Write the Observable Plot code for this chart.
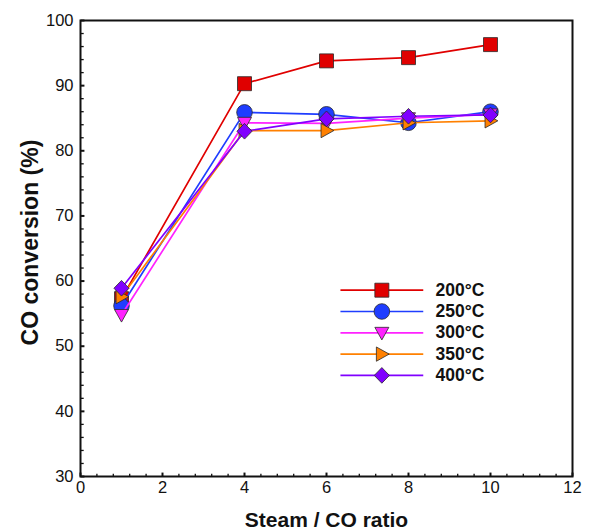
<!DOCTYPE html>
<html>
<head>
<meta charset="utf-8">
<script src="https://cdn.jsdelivr.net/npm/d3@7"></script>
<script src="https://cdn.jsdelivr.net/npm/@observablehq/plot@0.6"></script>
<style>
  body { margin: 0; background: #fff; }
  #chart svg { font-family: "Liberation Sans", Arial, Helvetica, sans-serif; }
</style>
</head>
<body>
<div id="chart"></div>
<script>
// Steam / CO ratio tested
const ratio = [1, 4, 6, 8, 10];

// Reaction temperatures (series)
const temps = ["200°C", "250°C", "300°C", "350°C", "400°C"];

// CO conversion (%) at each steam / CO ratio
const conv200 = [57.3, 90.3, 93.8, 94.3, 96.3];
const conv250 = [56.2, 85.9, 85.6, 84.3, 86.0];
const conv300 = [54.8, 84.3, 84.2, 85.0, 85.6];
const conv350 = [57.6, 83.1, 83.1, 84.3, 84.6];
const conv400 = [58.9, 83.0, 84.9, 85.3, 85.5];
const conversions = [conv200, conv250, conv300, conv350, conv400];

// Axis ticks
const xMajor = [0, 2, 4, 6, 8, 10, 12];
const yMajor = [30, 40, 50, 60, 70, 80, 90, 100];
const xMinor = [0.4, 0.8, 1.2, 1.6, 2.4, 2.8, 3.2, 3.6, 4.4, 4.8, 5.2, 5.6, 6.4, 6.8, 7.2, 7.6,
                8.4, 8.8, 9.2, 9.6, 10.4, 10.8, 11.2, 11.6];
const yMinor = [32, 34, 36, 38, 42, 44, 46, 48, 52, 54, 56, 58, 62, 64, 66, 68,
                72, 74, 76, 78, 82, 84, 86, 88, 92, 94, 96, 98];

const xDomain = [0, 12], yDomain = [30, 100];

// Series styling
const colors = ["#e00000", "#1f3dff", "#ff22ff", "#ff8000", "#8000ff"];

// Marker outlines, given in units of the dot radius
const shape = pts => ({
  draw(ctx, size) {
    const r = Math.sqrt(size / Math.PI);
    ctx.moveTo(pts[0][0] * r, pts[0][1] * r);
    for (const [px, py] of pts.slice(1)) ctx.lineTo(px * r, py * r);
    ctx.closePath();
  }
});
const symSquare = shape([[-1, -1], [1, -1], [1, 1], [-1, 1]]);
const symDiamond = shape([[0, -1.12], [1.08, 0], [0, 1.12], [-1.08, 0]]);
const symTriDown = shape([[-1, -0.78], [1, -0.78], [0, 1.02]]);
const symTriRight = shape([[-0.78, -1.02], [1.05, 0], [-0.78, 1.02]]);
const symbols = [symSquare, "circle", symTriDown, symTriRight, symDiamond];
const radii = [7, 7.8, 7, 7, 7];

// Tick glyphs: a stroke of length r pointing into the frame (up from the bottom edge, right from the left edge)
const tickUp = {draw(ctx, size) { const r = Math.sqrt(size / Math.PI); ctx.moveTo(0, 0); ctx.lineTo(0, -r); }};
const tickRight = {draw(ctx, size) { const r = Math.sqrt(size / Math.PI); ctx.moveTo(0, 0); ctx.lineTo(r, 0); }};
const xTickRows = [
  ...xMinor.map(v => ({x: v, y: yDomain[0], len: 6, w: 1.3})),
  ...xMajor.map(v => ({x: v, y: yDomain[0], len: 12, w: 2}))
];
const yTickRows = [
  ...yMinor.map(v => ({x: xDomain[0], y: v, len: 8, w: 1.3})),
  ...yMajor.map(v => ({x: xDomain[0], y: v, len: 12, w: 2}))
];

// Tidy rows for the chart
const rows = temps.flatMap((t, i) =>
  ratio.map((r, j) => ({temp: t, ratio: r, conv: conversions[i][j], i}))
);

// Legend layout in data units: line start/end, marker and label columns, first row and row step
const legendAt = {x1: 6.34, x2: 8.36, xMark: 7.35, xText: 8.66, y: 58.6, step: 3.27};
const legendRows = temps.map((t, i) => ({temp: t, i, y: legendAt.y - i * legendAt.step}));

const seriesMarks = temps.flatMap((t, i) => {
  const d = rows.filter(r => r.i === i);
  return [
    Plot.line(d, {x: "ratio", y: "conv", stroke: colors[i], strokeWidth: 1.7}),
    Plot.dot(d, {x: "ratio", y: "conv", symbol: symbols[i], r: radii[i], fill: colors[i], stroke: "#2a2a2a", strokeWidth: 0.8})
  ];
});

const legendMarks = legendRows.flatMap(row => [
  Plot.link([row], {x1: () => legendAt.x1, x2: () => legendAt.x2, y1: "y", y2: "y", stroke: colors[row.i], strokeWidth: 1.7}),
  Plot.dot([row], {x: () => legendAt.xMark, y: "y", symbol: symbols[row.i], r: radii[row.i], fill: colors[row.i], stroke: "#2a2a2a", strokeWidth: 0.8}),
  Plot.text([row], {x: () => legendAt.xText, y: "y", text: "temp", textAnchor: "start", fontSize: 17.5, fontWeight: "bold", fill: "#111"})
]);

const chart = Plot.plot({
  width: 591,
  height: 530,
  marginLeft: 80,
  marginRight: 19,
  marginTop: 20,
  marginBottom: 54,
  x: {domain: xDomain},
  y: {domain: yDomain},
  marks: [
    Plot.frame({stroke: "#111", strokeWidth: 2, fill: "none"}),
    Plot.axisX(xMajor, {anchor: "bottom", tickSize: 0, tickPadding: 5, fontSize: 16.5, label: null, fill: "#111"}),
    Plot.axisY(yMajor, {anchor: "left", tickSize: 0, tickPadding: 7, fontSize: 16.5, label: null, fill: "#111"}),
    ...seriesMarks,
    ...legendMarks,
    // inward ticks along the bottom and left edges
    Plot.dot(xTickRows, {x: "x", y: "y", symbol: tickUp, r: "len", fill: "none", stroke: "#111", strokeWidth: "w"}),
    Plot.dot(yTickRows, {x: "x", y: "y", symbol: tickRight, r: "len", fill: "none", stroke: "#111", strokeWidth: "w"}),
    // axis titles
    Plot.text(["CO conversion (%)"], {frameAnchor: "left", text: d => d, rotate: -90, dx: -43, dy: -6, lineAnchor: "bottom", textAnchor: "middle", fontSize: 23, fontWeight: "bold", fill: "#111"}),
    Plot.text(["Steam / CO ratio"], {frameAnchor: "bottom", text: d => d, dy: 44, lineAnchor: "middle", textAnchor: "middle", fontSize: 21, fontWeight: "bold", fill: "#111"})
  ]
});

document.getElementById("chart").appendChild(chart);
</script>
</body>
</html>
